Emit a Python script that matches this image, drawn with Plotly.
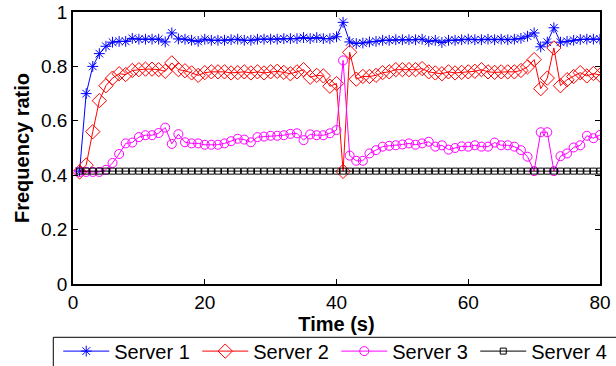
import plotly.graph_objects as go

time_s = list(range(1, 81))

server1 = [0.415, 0.70, 0.80, 0.847, 0.874, 0.889, 0.892, 0.892, 0.903, 0.90,
           0.90, 0.90, 0.90, 0.89, 0.923, 0.901, 0.90, 0.896, 0.892, 0.90,
           0.896, 0.896, 0.896, 0.898, 0.90, 0.896, 0.896, 0.90, 0.90, 0.90,
           0.90, 0.902, 0.902, 0.902, 0.906, 0.902, 0.906, 0.902, 0.902, 0.909,
           0.962, 0.89, 0.884, 0.886, 0.89, 0.892, 0.896, 0.896, 0.898, 0.898,
           0.898, 0.898, 0.90, 0.892, 0.896, 0.888, 0.896, 0.896, 0.898, 0.90,
           0.898, 0.898, 0.90, 0.898, 0.90, 0.898, 0.90, 0.903, 0.911, 0.923,
           0.872, 0.889, 0.942, 0.889, 0.892, 0.896, 0.899, 0.90, 0.90, 0.90]

server2 = [0.412, 0.437, 0.56, 0.674, 0.729, 0.757, 0.773, 0.77, 0.785, 0.788,
           0.79, 0.79, 0.788, 0.782, 0.813, 0.788, 0.784, 0.776, 0.767, 0.777,
           0.78, 0.78, 0.78, 0.776, 0.777, 0.78, 0.776, 0.78, 0.776, 0.78,
           0.782, 0.778, 0.773, 0.78, 0.788, 0.76, 0.767, 0.765, 0.727, 0.737,
           0.414, 0.852, 0.753, 0.763, 0.763, 0.767, 0.777, 0.78, 0.788, 0.788,
           0.788, 0.788, 0.792, 0.78, 0.776, 0.773, 0.78, 0.776, 0.778, 0.78,
           0.782, 0.788, 0.78, 0.778, 0.78, 0.78, 0.78, 0.785, 0.798, 0.825,
           0.718, 0.757, 0.868, 0.729, 0.751, 0.763, 0.777, 0.765, 0.774, 0.768]

server3 = [0.412, 0.412, 0.412, 0.412, 0.42, 0.445, 0.478, 0.517, 0.52, 0.54,
           0.547, 0.547, 0.555, 0.575, 0.515, 0.551, 0.521, 0.517, 0.517, 0.512,
           0.512, 0.512, 0.517, 0.525, 0.534, 0.531, 0.521, 0.54, 0.542, 0.545,
           0.545, 0.547, 0.552, 0.554, 0.529, 0.55, 0.547, 0.547, 0.554, 0.566,
           0.822, 0.472, 0.453, 0.453, 0.48, 0.492, 0.505, 0.508, 0.51, 0.513,
           0.517, 0.512, 0.517, 0.523, 0.505, 0.51, 0.494, 0.50, 0.506, 0.505,
           0.51, 0.505, 0.505, 0.52, 0.51, 0.51, 0.505, 0.492, 0.468, 0.415,
           0.558, 0.558, 0.415, 0.47, 0.48, 0.502, 0.51, 0.545, 0.536, 0.548]

server4 = [0.415, 0.415, 0.415, 0.415, 0.415, 0.415, 0.415, 0.415, 0.415, 0.415,
           0.415, 0.415, 0.415, 0.415, 0.415, 0.415, 0.415, 0.415, 0.415, 0.415,
           0.415, 0.415, 0.415, 0.415, 0.415, 0.415, 0.415, 0.415, 0.415, 0.415,
           0.415, 0.415, 0.415, 0.415, 0.415, 0.415, 0.415, 0.415, 0.415, 0.415,
           0.415, 0.415, 0.415, 0.415, 0.415, 0.415, 0.415, 0.415, 0.415, 0.415,
           0.415, 0.415, 0.415, 0.415, 0.415, 0.415, 0.415, 0.415, 0.415, 0.415,
           0.415, 0.415, 0.415, 0.415, 0.415, 0.415, 0.415, 0.415, 0.415, 0.415,
           0.415, 0.415, 0.415, 0.415, 0.415, 0.415, 0.415, 0.415, 0.415, 0.415]

series_names = ["Server 1", "Server 2", "Server 3", "Server 4"]
x_ticks = [0, 20, 40, 60, 80]
y_ticks = [0, 0.2, 0.4, 0.6, 0.8, 1]

FONT = "Liberation Sans, Arial, Helvetica, sans-serif"

styles = [
    dict(color="#0000FF", symbol="asterisk-open", size=9),
    dict(color="#FF0000", symbol="diamond-open", size=11),
    dict(color="#FF00FF", symbol="circle-open", size=9),
    dict(color="#000000", symbol="square-open", size=6),
]

fig = go.Figure()
for name, ys, st in zip(series_names, [server1, server2, server3, server4], styles):
    fig.add_trace(go.Scatter(
        x=time_s, y=ys, name=name, mode="lines+markers",
        line=dict(color=st["color"], width=1),
        marker=dict(symbol=st["symbol"], size=st["size"], color=st["color"],
                    line=dict(color=st["color"], width=1)),
    ))

axis_common = dict(
    showline=True, linecolor="#000000", linewidth=1.5, mirror="ticks",
    ticks="inside", ticklen=5, tickwidth=1, tickcolor="#000000",
    showgrid=False, zeroline=False, ticklabeloverflow="allow",
    tickfont=dict(family=FONT, size=19, color="#000000"),
)

fig.update_layout(
    width=616, height=366,
    margin=dict(l=73, r=16, t=12, b=82, autoexpand=False),
    paper_bgcolor="white", plot_bgcolor="white",
    font=dict(family=FONT, color="#000000"),
    xaxis=dict(range=[0, 80], tickvals=x_ticks,
               title=dict(text="<b>Time (s)</b>", font=dict(family=FONT, size=20), standoff=2),
               **axis_common),
    yaxis=dict(range=[0, 1], tickvals=y_ticks,
               title=dict(text="<b>Frequency ratio</b>", font=dict(family=FONT, size=20), standoff=6),
               **axis_common),
    legend=dict(orientation="h", x=-0.028, y=-0.175, xanchor="left", yanchor="top",
                borderwidth=0, bgcolor="rgba(0,0,0,0)",
                font=dict(family=FONT, size=20, color="#000000"),
                itemwidth=46, tracegroupgap=0, entrywidth=78),
    showlegend=True,
    hovermode=False,
    shapes=[dict(type="rect", xref="paper", yref="paper",
                 x0=-0.0374, x1=1.2, y0=-0.196, y1=-0.45,
                 line=dict(color="#000000", width=1), fillcolor="rgba(0,0,0,0)",
                 layer="below")],
)

fig.write_html("out.html", config={"displayModeBar": False},
               post_script="document.body.style.margin='0';document.body.style.padding='0';")
